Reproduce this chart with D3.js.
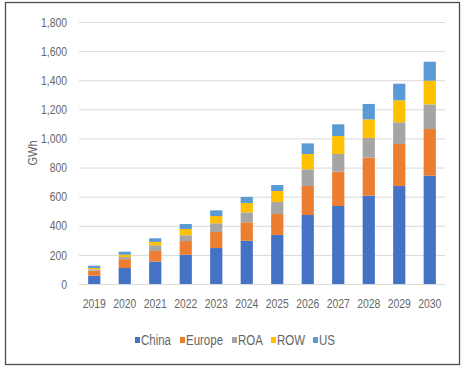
<!DOCTYPE html>
<html>
<head>
<meta charset="utf-8">
<script src="https://cdn.jsdelivr.net/npm/d3@7"></script>
<style>
  body { margin: 0; background: #fff; }
  text { font-family: "Liberation Sans", Arial, sans-serif; }
</style>
</head>
<body>
<div id="chart"></div>
<script>
const years = ["2019","2020","2021","2022","2023","2024","2025","2026","2027","2028","2029","2030"];
const series = ["China","Europe","ROA","ROW","US"];
const colors = ["#4472C4","#ED7D31","#A5A5A5","#FFC000","#5B9BD5"];

const china  = [57, 110, 154, 201, 247, 297, 337, 474, 536, 607, 673, 744];
const europe = [34, 60, 73, 94, 110, 127, 144, 199, 236, 261, 289, 321];
const roa    = [10, 15, 39, 40, 60, 68, 83, 115, 121, 135, 149, 169];
const row    = [9, 16, 23, 43, 50, 64, 75, 105, 124, 128, 151, 163];
const us     = [16, 21, 25, 34, 39, 42, 41, 73, 80, 106, 114, 130];

const yTicks = [0, 200, 400, 600, 800, 1000, 1200, 1400, 1600, 1800];

const width = 466, height = 373;
const plotLeft = 79, plotRight = 445, plotTop = 22, plotBottom = 284;

// the source font is a condensed one, squeeze text horizontally
function squeeze(sel, k) {
  sel.each(function () {
    const w = this.getComputedTextLength();
    d3.select(this).attr("textLength", w * k).attr("lengthAdjust", "spacingAndGlyphs");
  });
}

const table = years.map((y, i) => ({
  year: y, China: china[i], Europe: europe[i], ROA: roa[i], ROW: row[i], US: us[i]
}));
const stacked = d3.stack().keys(series)(table);

const svg = d3.select("#chart").append("svg")
  .attr("width", width)
  .attr("height", height);

// frame
svg.append("rect")
  .attr("x", 5.5).attr("y", 2.5)
  .attr("width", 454).attr("height", 362)
  .attr("fill", "#fff")
  .attr("stroke", "#4d4d4d")
  .attr("stroke-width", 1.3);

const x = d3.scaleBand().domain(years).range([plotLeft, plotRight]).paddingInner(0.6).paddingOuter(0.3);
const y = d3.scaleLinear().domain([0, 1800]).range([plotBottom, plotTop]);

// grid
svg.append("g")
  .selectAll("line")
  .data(yTicks).enter()
  .append("line")
    .attr("x1", plotLeft).attr("x2", plotRight)
    .attr("y1", d => y(d) + 0.5).attr("y2", d => y(d) + 0.5)
    .attr("stroke", "#d9d9d9")
    .attr("stroke-width", 1);

// y axis labels
const yAxis = svg.append("g")
  .attr("transform", `translate(${plotLeft},0)`)
  .call(d3.axisLeft(y).tickValues(yTicks).tickFormat(d3.format(",")).tickSize(0).tickPadding(12));
yAxis.select(".domain").remove();
yAxis.selectAll("text").attr("fill", "#666").style("font-size", "13px").call(squeeze, 0.8);

// x axis labels
const xAxis = svg.append("g")
  .attr("transform", `translate(0,${plotBottom})`)
  .call(d3.axisBottom(x).tickSize(0).tickPadding(15));
xAxis.select(".domain").remove();
xAxis.selectAll("text").attr("fill", "#666").style("font-size", "13px").call(squeeze, 0.8);

// bars
svg.append("g")
  .selectAll("g")
  .data(stacked).enter()
  .append("g")
    .attr("fill", (d, i) => colors[i])
  .selectAll("rect")
  .data(d => d).enter()
  .append("rect")
    .attr("x", d => x(d.data.year))
    .attr("y", d => y(d[1]))
    .attr("width", x.bandwidth())
    .attr("height", d => y(d[0]) - y(d[1]));

// y title
svg.append("text")
  .attr("transform", `translate(37,${(plotTop + plotBottom) / 2}) rotate(-90)`)
  .attr("text-anchor", "middle")
  .attr("fill", "#666")
  .style("font-size", "13px")
  .text("GWh")
  .call(squeeze, 0.85);

// legend
const legendX = [135, 180, 232, 271, 313];
const legend = svg.append("g").attr("transform", "translate(0,340)");
const item = legend.selectAll("g")
  .data(series).enter()
  .append("g")
    .attr("transform", (d, i) => `translate(${legendX[i]},0)`);
item.append("rect")
  .attr("x", 0).attr("y", -3)
  .attr("width", 5).attr("height", 6)
  .attr("fill", (d, i) => colors[i]);
item.append("text")
  .attr("x", 6).attr("y", 5)
  .attr("fill", "#666")
  .style("font-size", "14px")
  .text(d => d)
  .call(squeeze, 0.82);
</script>
</body>
</html>
